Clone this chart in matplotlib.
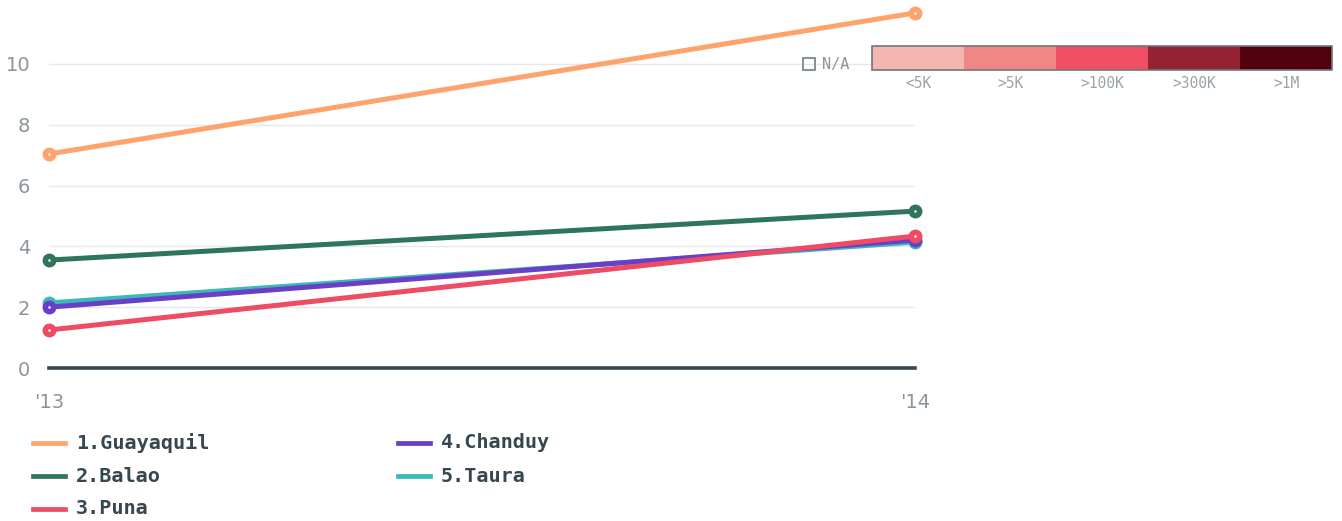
import matplotlib
matplotlib.use('Agg')
import matplotlib.pyplot as plt
from matplotlib.patches import Rectangle
from matplotlib.lines import Line2D

years = ["'13", "'14"]
names = ['1.Guayaquil', '2.Balao', '3.Puna', '4.Chanduy', '5.Taura']
guayaquil = [7.04, 11.68]
balao = [3.55, 5.16]
puna = [1.25, 4.34]
chanduy = [2.0, 4.21]
taura = [2.14, 4.14]
colors = ['#ffa36c', '#2e7559', '#ee4b64', '#6a3fc7', '#3bb8b8']
scale_labels = ['<5K', '>5K', '>100K', '>300K', '>1M']
scale_colors = ['#f4b6ae', '#f08686', '#ef4f62', '#952231', '#52000d']

W, H = 1342, 521
fig = plt.figure(figsize=(W / 100, H / 100), dpi=100)
ax = fig.add_axes([49 / W, 1 - 368 / H, (915 - 49) / W, (368 - 3.2) / H])

x = [0, 1]
series = [guayaquil, balao, puna, chanduy, taura]
zorders = [5, 4, 8, 7, 6]
for vals, c, z in zip(series, colors, zorders):
    ax.plot(x, vals, color=c, lw=3.6, solid_capstyle='round', zorder=z,
            marker='o', ms=9, mfc=c, mec=c, clip_on=False)
    ax.plot(x, vals, ls='none', marker='o', ms=0.8, color='white', zorder=z, clip_on=False)

for g in [2, 4, 6, 8, 10]:
    ax.axhline(g, color='#e6e8e9', lw=1, zorder=1)
ax.axhline(0, color='#37474f', lw=2.6, zorder=2, clip_on=False)

ax.set_xlim(0, 1)
ax.set_ylim(0, 12)
ax.set_yticks([0, 2, 4, 6, 8, 10])
ax.set_xticks(x)
ax.set_xticklabels(years)
ax.tick_params(length=0, labelsize=14, labelcolor='#8a959c')
ax.tick_params(axis='y', pad=13.5)
ax.tick_params(axis='x', pad=18)
for s in ax.spines.values():
    s.set_visible(False)

# legend at bottom
rows = [443, 476, 509]
pos = [(33, rows[0]), (33, rows[1]), (33, rows[2]), (398, rows[0]), (398, rows[1])]
for (px, py), n, c in zip(pos, names, colors):
    fig.add_artist(Line2D([px / W, (px + 32) / W], [1 - py / H, 1 - py / H],
                          color=c, lw=3.4, transform=fig.transFigure))
    fig.text((px + 43) / W, 1 - py / H, n, fontsize=14.5, fontweight='bold',
             family='DejaVu Sans Mono', color='#37474f', va='center', ha='left')

# color scale legend
fig.add_artist(Rectangle((803 / W, 1 - 70 / H), 12 / W, 12 / H, fill=False,
                         ec='#7d878c', lw=1.3, transform=fig.transFigure))
fig.text(822 / W, 1 - 64 / H, 'N/A', fontsize=11, family='DejaVu Sans Mono',
         color='#8a959c', va='center', ha='left')
x0, x1, yt, yb = 872, 1332, 46, 70
seg = (x1 - x0) / len(scale_colors)
for i, (c, lab) in enumerate(zip(scale_colors, scale_labels)):
    fig.add_artist(Rectangle(((x0 + i * seg) / W, 1 - yb / H), seg / W, (yb - yt) / H,
                             fc=c, ec='none', transform=fig.transFigure))
    fig.text((x0 + (i + 0.5) * seg) / W, 1 - 83 / H, lab, fontsize=10.5,
             family='DejaVu Sans Mono', color='#9aa3a8', va='center', ha='center')
fig.add_artist(Rectangle((x0 / W, 1 - yb / H), (x1 - x0) / W, (yb - yt) / H,
                         fill=False, ec='#6f777b', lw=1.2, transform=fig.transFigure))

fig.savefig('out.png', dpi=100)
